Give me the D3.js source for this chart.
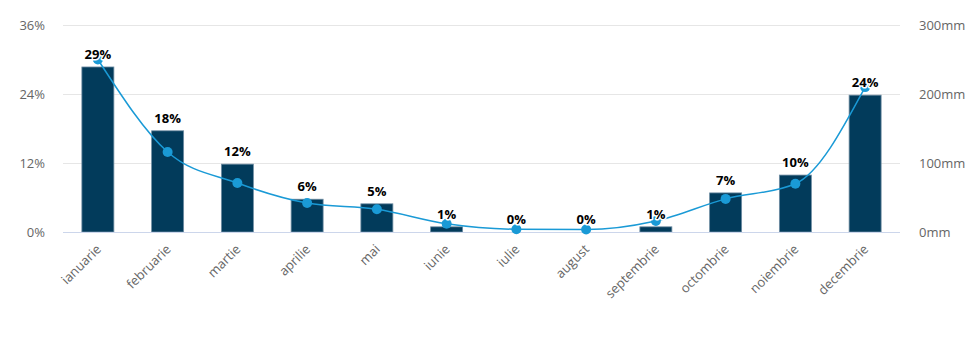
<!DOCTYPE html>
<html><head><meta charset="utf-8">
<script src="https://cdn.jsdelivr.net/npm/d3@7"></script>
<style>body{margin:0;background:#fff}svg{display:block;font-family:"Open Sans","Noto Sans",sans-serif}</style>
</head><body><svg id="c" width="977" height="343"></svg>
<script>
const months = ["ianuarie","februarie","martie","aprilie","mai","iunie","iulie","august","septembrie","octombrie","noiembrie","decembrie"];
const percent = [28.7,17.6,11.8,5.7,4.9,0.9,0,0,0.9,6.8,9.9,23.8];
const percentLabels = ["29%","18%","12%","6%","5%","1%","0%","0%","1%","7%","10%","24%"];
const rainfall = [250,116,71,42,33,12,4,3.5,16,48,70,210];
const leftTicks = [0,12,24,36];
const rightTicks = [0,100,200,300];

const svg = d3.select("#c");
const L=63, R=900, T=25, B=232;
const x = d3.scaleBand().domain(months).range([L,R]).paddingInner(0).paddingOuter(0);
const yL = d3.scaleLinear().domain([0,36]).range([B,T]);
const yR = d3.scaleLinear().domain([0,300]).range([B,T]);

// grid
svg.append("g").selectAll("line").data(leftTicks.slice(1)).join("line")
 .attr("x1",L).attr("x2",R).attr("y1",d=>yL(d)+0.5).attr("y2",d=>yL(d)+0.5)
 .attr("stroke","#e6e6e6").attr("stroke-width",1);

// left axis
const ga = svg.append("g").attr("transform",`translate(${L},0)`)
 .call(d3.axisLeft(yL).tickValues(leftTicks).tickFormat(d=>d+"%").tickSize(0).tickPadding(18));
ga.select(".domain").remove();
ga.selectAll("text").attr("fill","#666").attr("font-size","13px").attr("font-family","'Open Sans','Noto Sans',sans-serif");

const gr = svg.append("g").attr("transform",`translate(${R},0)`)
 .call(d3.axisRight(yR).tickValues(rightTicks).tickFormat(d=>d+"mm").tickSize(0).tickPadding(19));
gr.select(".domain").remove();
gr.selectAll("text").attr("fill","#666").attr("font-size","13px").attr("font-family","'Open Sans','Noto Sans',sans-serif");

// bars
const bw = 32;
svg.append("g").selectAll("rect").data(months).join("rect")
 .attr("x",(d)=>x(d)+x.bandwidth()/2-bw/2)
 .attr("y",(d,i)=>yL(percent[i]))
 .attr("width",bw)
 .attr("height",(d,i)=>B-yL(percent[i]))
 .attr("fill","#023b5b").attr("stroke","#6f8da3").attr("stroke-width",0.8);

// baseline
svg.append("line").attr("x1",L).attr("x2",R).attr("y1",B+0.5).attr("y2",B+0.5).attr("stroke","#ccd6eb");

// x labels
const gx = svg.append("g").attr("transform",`translate(0,${B})`)
 .call(d3.axisBottom(x).tickSize(0).tickPadding(0));
gx.select(".domain").remove();
gx.selectAll("text").attr("fill","#666").attr("font-size","13px")
 .attr("font-family","'Open Sans','Noto Sans',sans-serif")
 .attr("text-anchor","end").attr("dy",null)
 .attr("transform","translate(4,18) rotate(-45)");

// line
const line = d3.line().x((d,i)=>x(months[i])+x.bandwidth()/2).y(d=>yR(d)).curve(d3.curveMonotoneX);
svg.append("path").datum(rainfall).attr("d",line).attr("fill","none").attr("stroke","#1a9ad6").attr("stroke-width",1.5);
svg.append("g").selectAll("circle").data(rainfall).join("circle")
 .attr("cx",(d,i)=>x(months[i])+x.bandwidth()/2).attr("cy",d=>yR(d)).attr("r",5).attr("fill","#1a9ad6");

// data labels
svg.append("g").selectAll("text").data(percentLabels).join("text")
 .attr("x",(d,i)=>x(months[i])+x.bandwidth()/2)
 .attr("y",(d,i)=>yL(percent[i])-8)
 .attr("text-anchor","middle").attr("font-size","13px").attr("font-weight","bold")
 .attr("fill","#000").attr("stroke","#fff").attr("stroke-width",3).attr("paint-order","stroke")
 .attr("stroke-linejoin","round").text(d=>d);
</script></body></html>
